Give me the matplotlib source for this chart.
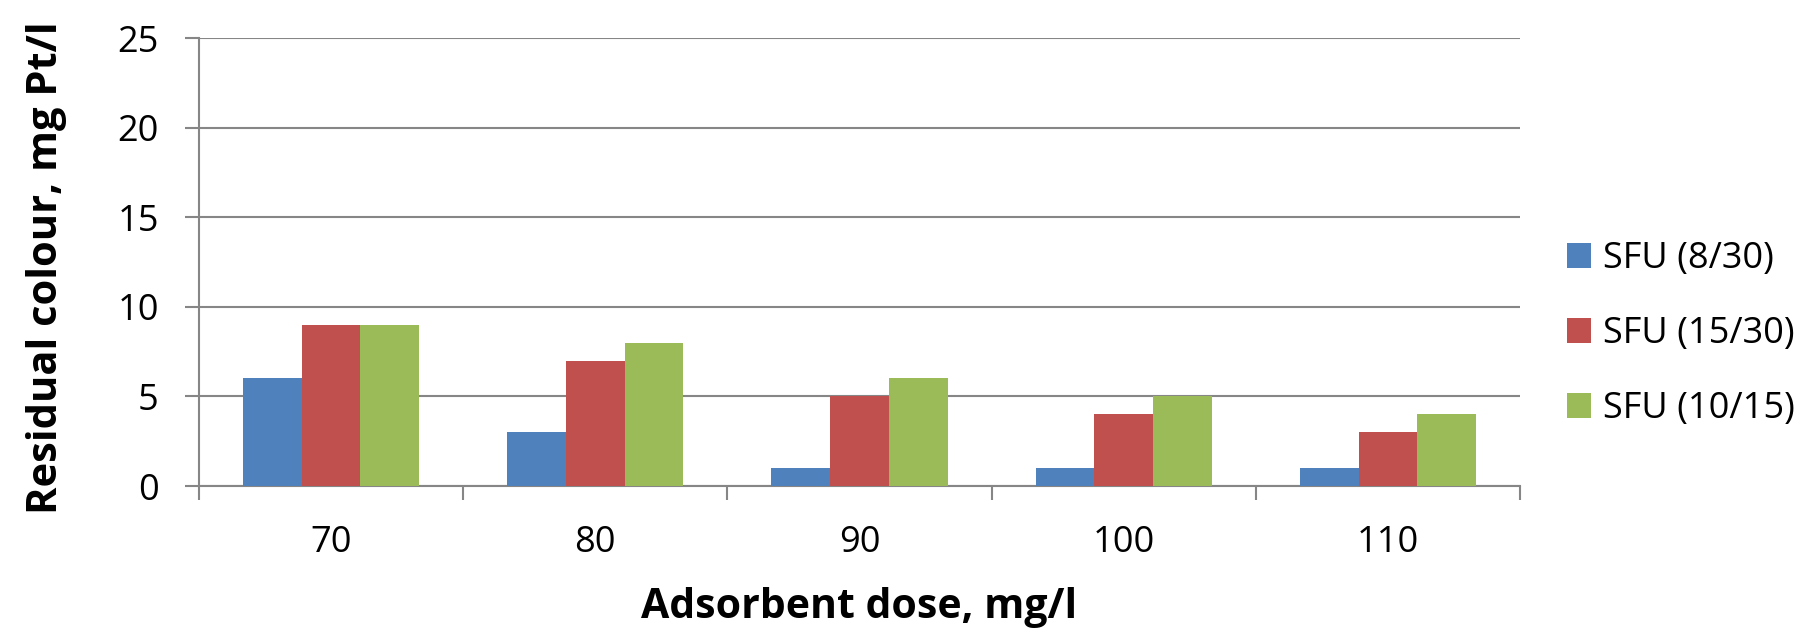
import matplotlib
matplotlib.use("Agg")
import matplotlib.pyplot as plt
import numpy as np

categories = ["70", "80", "90", "100", "110"]
series_names = ["SFU (8/30)", "SFU (15/30)", "SFU (10/15)"]
sfu_8_30 = [6, 3, 1, 1, 1]
sfu_15_30 = [9, 7, 5, 4, 3]
sfu_10_15 = [9, 8, 6, 5, 4]
colors = ["#4F81BD", "#C0504D", "#9BBB59"]

plt.rcParams['font.family'] = ['Open Sans', 'DejaVu Sans']

W, H = 1806, 631
fig = plt.figure(figsize=(W/100, H/100), dpi=100)
ax = fig.add_axes([199/W, 1-486/H, (1520-199)/W, (486-38)/H])

x = np.arange(len(categories))
bw = 0.6667/3
handles = []
for i, (vals, name) in enumerate(zip([sfu_8_30, sfu_15_30, sfu_10_15], series_names)):
    h = ax.bar(x + (i-1)*bw, vals, width=bw, color=colors[i], label=name, zorder=3)
    handles.append(h)

ax.set_xlim(-0.5, len(categories)-0.5)
ax.set_ylim(0, 25)
ax.set_yticks(range(0, 26, 5))
ax.yaxis.grid(True, color="#868686", linewidth=1.5, zorder=0)
ax.set_xticks(x)
ax.set_xticklabels(categories)
ax.set_xticks(np.arange(-0.5, len(categories), 1.0), minor=True)
ax.tick_params(axis='x', which='major', length=0, labelsize=26, pad=28)
ax.tick_params(axis='x', which='minor', length=10, width=1.5, color="#868686")
ax.tick_params(axis='y', length=10, width=1.5, color="#868686", labelsize=26, pad=19)
for s in ["top", "right"]:
    ax.spines[s].set_visible(False)
for s in ["left", "bottom"]:
    ax.spines[s].set_color("#868686")
    ax.spines[s].set_linewidth(1.5)

fig.text(47/W, 1-268/H, "Residual colour, mg Pt/l", fontsize=30, fontweight='bold',
         rotation=90, ha='center', va='center')
fig.text(859/W, 1-618/H, "Adsorbent dose, mg/l", fontsize=29.5, fontweight='bold',
         ha='center', va='baseline')

leg = fig.legend(handles=handles, labels=series_names, loc='center left',
                 bbox_to_anchor=(1567/W, 1-334/H), frameon=False, fontsize=26,
                 borderpad=0, borderaxespad=0,
                 handlelength=0.67, handleheight=0.67, handletextpad=0.33,
                 labelspacing=1.08)

fig.savefig("out.png", dpi=100)
